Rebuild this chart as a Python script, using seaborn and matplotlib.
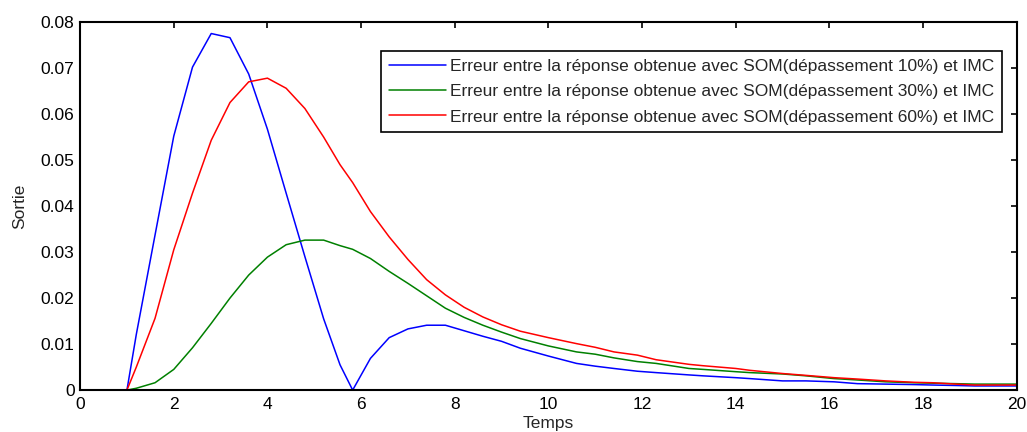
import numpy as np
import pandas as pd
import matplotlib
matplotlib.use("Agg")
import matplotlib.pyplot as plt
import seaborn as sns

temps = [0, 1.0, 1.2, 1.6, 2.0, 2.4, 2.8, 3.2, 3.6, 4.0, 4.4, 4.8, 5.2, 5.55, 5.82,
         6.2, 6.6, 7.0, 7.4, 7.8, 8.2, 8.6, 9.0, 9.4, 10.0, 10.6, 11.0, 11.4, 11.9,
         12.3, 13.0, 13.3, 14.0, 14.3, 15.0, 15.5, 16.1, 16.6, 17.2, 17.8, 18.2,
         18.7, 19.1, 20.0]

err_10 = [0, 0, 0.0121, 0.0337, 0.0552, 0.0702, 0.0775, 0.0766, 0.0687, 0.0567,
          0.0428, 0.0290, 0.0155, 0.0055, 0.0, 0.0069, 0.0114, 0.0133, 0.0141,
          0.0141, 0.0129, 0.0117, 0.0106, 0.0091, 0.0074, 0.0058, 0.0052, 0.0047,
          0.0041, 0.0038, 0.0033, 0.0031, 0.0027, 0.0025, 0.0020, 0.0020, 0.0018,
          0.0014, 0.0013, 0.0012, 0.0011, 0.0010, 0.0009, 0.0009]

err_30 = [0, 0, 0.0004, 0.0016, 0.0045, 0.0092, 0.0145, 0.0200, 0.0250, 0.0289,
          0.0316, 0.0326, 0.0326, 0.0314, 0.0306, 0.0286, 0.0258, 0.0232, 0.0205,
          0.0178, 0.0158, 0.0141, 0.0126, 0.0112, 0.0096, 0.0083, 0.0078, 0.0070,
          0.0062, 0.0058, 0.0047, 0.0045, 0.0040, 0.0038, 0.0035, 0.0031, 0.0025,
          0.0022, 0.0018, 0.0016, 0.0015, 0.0014, 0.0013, 0.0013]

err_60 = [0, 0, 0.0050, 0.0156, 0.0305, 0.0428, 0.0543, 0.0625, 0.0670, 0.0678,
          0.0656, 0.0612, 0.0550, 0.0490, 0.0451, 0.0388, 0.0333, 0.0284, 0.0240,
          0.0207, 0.0180, 0.0159, 0.0142, 0.0128, 0.0114, 0.0101, 0.0093, 0.0083,
          0.0076, 0.0066, 0.0056, 0.0053, 0.0047, 0.0043, 0.0036, 0.0032, 0.0027,
          0.0024, 0.0020, 0.0017, 0.0016, 0.0013, 0.0011, 0.0011]

labels = [
    "Erreur entre la réponse obtenue avec SOM(dépassement 10%) et IMC",
    "Erreur entre la réponse obtenue avec SOM(dépassement 30%) et IMC",
    "Erreur entre la réponse obtenue avec SOM(dépassement 60%) et IMC",
]
colors = ["#0000ff", "#008000", "#ff0000"]

xticks = [0, 2, 4, 6, 8, 10, 12, 14, 16, 18, 20]
yticks = [0, 0.01, 0.02, 0.03, 0.04, 0.05, 0.06, 0.07, 0.08]
ytick_labels = ["0", "0.01", "0.02", "0.03", "0.04", "0.05", "0.06", "0.07", "0.08"]

df = pd.concat([
    pd.DataFrame({"Temps": temps, "Sortie": vals, "serie": lab})
    for vals, lab in zip([err_10, err_30, err_60], labels)
], ignore_index=True)

sns.set_style("white")
plt.rcParams["font.family"] = ["Liberation Sans", "DejaVu Sans"]
plt.rcParams["xtick.direction"] = "in"
plt.rcParams["ytick.direction"] = "in"

fig = plt.figure(figsize=(10.27, 4.32), dpi=100)
ax = fig.add_axes([0.078, 0.097, 0.912, 0.852])

sns.lineplot(data=df, x="Temps", y="Sortie", hue="serie", hue_order=labels,
             palette=colors, linewidth=1.1, ax=ax, sort=False, estimator=None)

ax.set_xlim(0, 20)
ax.set_ylim(0, 0.08)
ax.set_xticks(xticks)
ax.set_xticklabels([str(t) for t in xticks])
ax.set_yticks(yticks)
ax.set_yticklabels(ytick_labels)
ax.tick_params(axis="both", which="both", direction="in", length=4, width=1.2,
               top=True, right=True, labelsize=12.5, colors="black")
ax.tick_params(axis="x", pad=5)
ax.tick_params(axis="y", pad=4)
for sp in ax.spines.values():
    sp.set_visible(True)
    sp.set_color("black")
    sp.set_linewidth(1.5)

ax.set_xlabel("Temps", fontsize=12.5, labelpad=3)
ax.set_ylabel("Sortie", fontsize=12.5, labelpad=10)

leg = ax.legend(loc="upper right", bbox_to_anchor=(0.984, 0.921), borderaxespad=0,
                fontsize=12.5, frameon=True, fancybox=False, framealpha=1,
                edgecolor="black", handlelength=3.3, borderpad=0.45,
                labelspacing=0.58, handletextpad=0.2)
leg.get_frame().set_linewidth(1.2)

fig.savefig("out.png", dpi=100)
